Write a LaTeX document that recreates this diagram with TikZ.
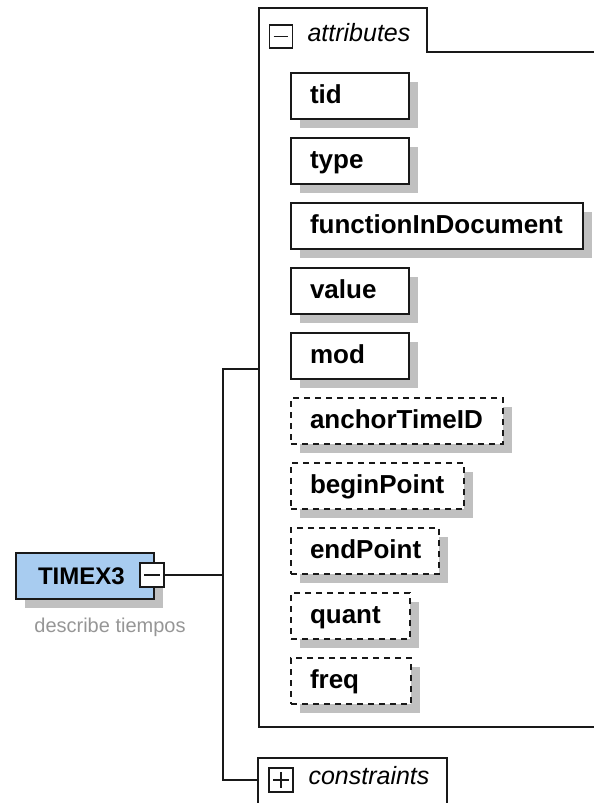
\documentclass[tikz,border=0pt]{standalone}
\usepackage{fontspec}
\setmainfont{Liberation Sans}
\usetikzlibrary{shadows}
\definecolor{elemblue}{RGB}{168,204,240}
\definecolor{shadowgray}{RGB}{192,192,192}
\definecolor{notegray}{RGB}{150,150,150}
\definecolor{ink}{RGB}{25,25,25}
\tikzset{
  line/.style={line width=2pt, draw=ink},
  boxshadow/.style={drop shadow={shadow xshift=9pt, shadow yshift=-9pt, fill=shadowgray, opacity=1}},
  attrbox/.style={rectangle, draw=ink, line width=2pt, fill=white, anchor=north west,
    minimum height=46pt, inner xsep=19pt, inner ysep=0pt, text height=19pt, text depth=4pt,
    align=left, font=\fontsize{26}{30}\selectfont\bfseries, boxshadow},
  optbox/.style={attrbox, dash pattern=on 6pt off 5pt},
  icon/.style={rectangle, draw=ink, line width=1.6pt, fill=white, minimum size=23pt, inner sep=0pt},
  grouplabel/.style={anchor=base west, font=\fontsize{25}{30}\selectfont\itshape},
}
\begin{document}
\begin{tikzpicture}[x=1pt, y=-1pt]
\useasboundingbox (0,0) rectangle (594,803);
\clip (0,0) rectangle (594,803);

% root element
\node[rectangle, draw=ink, line width=2pt, fill=elemblue, anchor=north west,
  minimum width=138pt, minimum height=46pt, inner xsep=22pt, inner ysep=0pt,
  text width=94pt, align=left, text height=18pt, text depth=2pt,
  font=\fontsize{24}{28}\selectfont\bfseries, boxshadow] (timex) at (15,552) {TIMEX3};
\node[icon, minimum size=24pt] (tmin) at (152,575) {};
\draw[line, line width=1.6pt] ([xshift=5pt]tmin.west) -- ([xshift=-5pt]tmin.east);
\node[anchor=base, font=\fontsize{20}{24}\selectfont, text=notegray] (note) at (110,632) {describe tiempos};

% attributes group
\coordinate (attrjoin) at (259,369);
\draw[line] (600,52) -- (427,52) -- (427,8) -- (259,8) -- (259,727) -- (600,727);
\node[icon] (amin) at (281,36.5) {};
\draw[line, line width=1.6pt] ([xshift=5pt]amin.west) -- ([xshift=-5pt]amin.east);
\node[grouplabel] (alabel) at (304,41) {attributes};

\node[attrbox, text width=80pt] (tid) at (290,72) {tid};
\node[attrbox, text width=80pt] (type) at (290,137) {type};
\node[attrbox, text width=254pt] (fid) at (290,202) {functionInDocument};
\node[attrbox, text width=80pt] (value) at (290,267) {value};
\node[attrbox, text width=80pt] (mod) at (290,332) {mod};
\node[optbox, text width=174pt] (anchor) at (290,397) {anchorTimeID};
\node[optbox, text width=135pt] (begin) at (290,462) {beginPoint};
\node[optbox, text width=110pt] (endp) at (290,527) {endPoint};
\node[optbox, text width=81pt] (quant) at (290,592) {quant};
\node[optbox, text width=82pt] (freq) at (290,657) {freq};

% constraints group
\node[rectangle, draw=ink, line width=2pt, fill=white, anchor=north west,
  minimum width=189pt, minimum height=60pt, inner sep=0pt] (cons) at (257,757) {};
\node[icon, minimum size=24pt] (cplus) at (281,780) {};
\draw[line, line width=1.6pt] ([xshift=5pt]cplus.west) -- ([xshift=-5pt]cplus.east);
\draw[line, line width=1.6pt] ([yshift=-5pt]cplus.north) -- ([yshift=5pt]cplus.south);
\node[grouplabel] (clabel) at (305,784) {constraints};

% connectors
\coordinate (spinetop) at (223,369);
\coordinate (spinemid) at (223,575);
\coordinate (spinebot) at (223,780);
\draw[line] (tmin.east) -- (spinemid);
\draw[line] (attrjoin) -- (spinetop) -- (spinebot) -- (spinebot -| cons.west);
\end{tikzpicture}
\end{document}
